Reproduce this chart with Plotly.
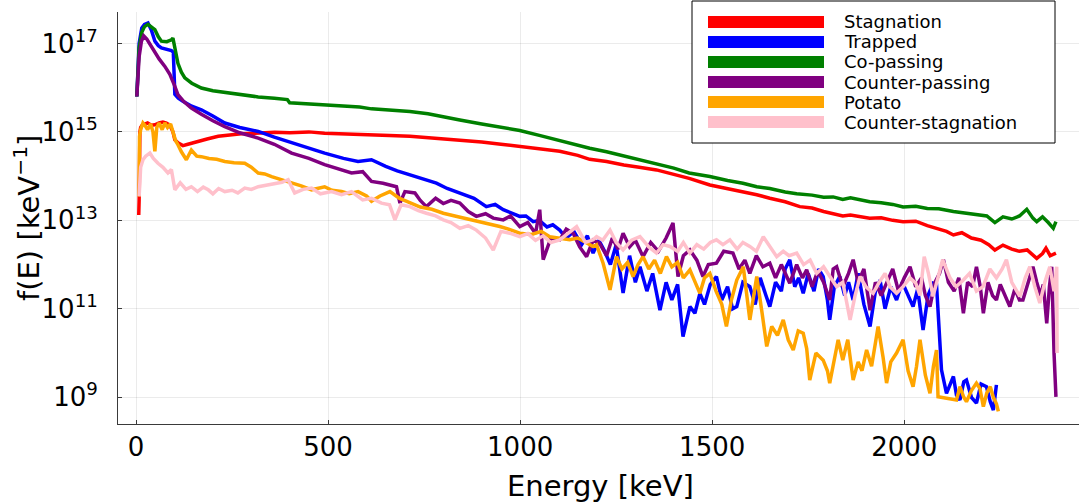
import plotly.graph_objects as go

# ---------------- data (log10 of f(E) in keV^-1) ----------------
names = ["Stagnation", "Trapped", "Co-passing", "Counter-passing", "Potato", "Counter-stagnation"]
colors = ["#ff0000", "#0000ff", "#008000", "#800080", "#ffa500", "#ffc0cb"]

stag_E = [7, 8, 10, 12, 16, 22, 30, 40, 49, 60, 70, 79, 88, 96, 101, 110, 122, 135, 150, 161, 185, 214, 245, 274, 310,
          361, 400, 450, 491, 540, 582, 613, 660, 713, 760, 800, 843, 900, 950, 999, 1050, 1103, 1150, 1181, 1225, 1270,
          1310, 1355, 1400, 1440, 1494, 1540, 1580, 1616, 1650, 1690, 1728, 1760, 1790, 1815, 1840, 1860, 1885, 1910,
          1940, 1970, 1997, 2030, 2060, 2090, 2110, 2128, 2150, 2175, 2200, 2220, 2236, 2257, 2280, 2300, 2320, 2345,
          2360, 2369, 2380, 2395]
stag_logf = [13.12, 13.46, 15.0, 15.1, 15.15, 15.18, 15.2, 15.15, 15.16, 15.2, 15.22, 15.2, 15.15, 15.0, 14.82, 14.75,
             14.69, 14.72, 14.76, 14.78, 14.84, 14.9, 14.93, 14.96, 14.97, 14.99, 14.98, 15.0, 14.97, 14.96, 14.95, 14.93,
             14.92, 14.9, 14.87, 14.85, 14.82, 14.77, 14.72, 14.67, 14.62, 14.56, 14.47, 14.38, 14.33, 14.25, 14.2, 14.14,
             14.04, 13.95, 13.8, 13.72, 13.66, 13.58, 13.5, 13.42, 13.31, 13.28, 13.2, 13.15, 13.1, 13.12, 13.09, 13.05,
             13.06, 13.0, 12.97, 12.98, 12.88, 12.8, 12.75, 12.67, 12.72, 12.6, 12.55, 12.45, 12.33, 12.44, 12.35, 12.3,
             12.33, 12.14, 12.25, 12.37, 12.2, 12.26]

trap_E = [2, 8, 15, 22, 31, 40, 49, 58, 66, 80, 92, 97, 101, 110, 122, 145, 170, 200, 231, 270, 318, 360, 405, 450, 491,
          540, 578, 613, 650, 680, 713, 750, 782, 810, 843, 880, 912, 935, 956, 975, 999, 1015, 1034, 1050, 1070, 1085,
          1103, 1120, 1140, 1160, 1175, 1190, 1205, 1220, 1235, 1250, 1268, 1285, 1300, 1312, 1330, 1345, 1364, 1380,
          1395, 1410, 1424, 1442, 1455, 1468, 1480, 1495, 1511, 1525, 1540, 1553, 1564, 1580, 1598, 1612, 1625, 1640,
          1650, 1665, 1680, 1690, 1702, 1715, 1725, 1737, 1750, 1765, 1777, 1789, 1800, 1806, 1818, 1832, 1845, 1855,
          1867, 1880, 1895, 1911, 1925, 1937, 1950, 1965, 1980, 1995, 2010, 2023, 2035, 2049, 2062, 2075, 2084, 2097,
          2110, 2120, 2128, 2136, 2145, 2155, 2162, 2175, 2188, 2200, 2214, 2224, 2232, 2240]
trap_logf = [15.8, 17.0, 17.35, 17.43, 17.46, 17.3, 17.05, 16.95, 16.9, 16.86, 16.84, 16.8, 15.85, 15.76, 15.69, 15.58,
             15.5, 15.36, 15.2, 15.1, 15.01, 14.88, 14.75, 14.62, 14.52, 14.4, 14.33, 14.37, 14.22, 14.12, 14.03, 13.93,
             13.84, 13.72, 13.62, 13.5, 13.31, 13.36, 13.24, 13.18, 13.09, 13.1, 12.97, 13.0, 12.85, 12.9, 12.78, 12.6,
             12.75, 12.45, 12.65, 12.26, 12.55, 12.3, 12.0, 12.45, 11.36, 12.2, 11.6, 11.95, 11.4, 11.8, 10.97, 11.6,
             11.2, 11.55, 10.37, 11.05, 10.9, 11.35, 11.1, 11.55, 11.73, 11.2, 11.5, 11.0, 11.05, 11.6, 11.5, 11.1, 11.7,
             11.3, 11.05, 11.6, 11.4, 11.9, 12.11, 11.5, 11.7, 11.35, 11.8, 11.4, 11.9, 11.73, 11.2, 10.75, 11.5, 11.73,
             11.3, 11.6, 11.2, 11.8, 11.1, 10.6, 11.4, 11.65, 11.0, 11.5, 11.2, 11.6, 11.3, 11.05, 11.45, 10.52, 11.3,
             11.58, 11.55, 9.62, 9.09, 9.3, 9.47, 9.05, 8.94, 9.35, 9.39, 9.0, 8.87, 9.3, 9.24, 8.9, 8.71, 9.28]

copass_E = [2, 8, 15, 22, 31, 40, 49, 58, 66, 80, 92, 96, 103, 109, 118, 127, 145, 170, 200, 231, 270, 318, 360, 394,
            400, 440, 491, 540, 582, 613, 660, 713, 760, 800, 843, 900, 950, 999, 1050, 1103, 1150, 1181, 1225, 1270,
            1310, 1355, 1400, 1440, 1494, 1540, 1580, 1616, 1650, 1690, 1720, 1760, 1790, 1815, 1840, 1860, 1885, 1910,
            1940, 1970, 1997, 2030, 2060, 2090, 2128, 2160, 2190, 2215, 2236, 2257, 2280, 2300, 2319, 2335, 2345, 2360,
            2375, 2388, 2395]
copass_logf = [15.8, 16.9, 17.25, 17.38, 17.43, 17.38, 17.31, 17.15, 17.05, 17.04, 17.08, 17.12, 16.85, 16.55, 16.35,
               16.22, 16.1, 15.99, 15.93, 15.89, 15.84, 15.79, 15.76, 15.73, 15.66, 15.64, 15.61, 15.58, 15.56, 15.52,
               15.5, 15.46, 15.41, 15.35, 15.27, 15.18, 15.1, 15.03, 14.92, 14.8, 14.7, 14.63, 14.55, 14.45, 14.36,
               14.26, 14.18, 14.07, 13.99, 13.9, 13.84, 13.76, 13.72, 13.64, 13.6, 13.57, 13.52, 13.53, 13.47, 13.51,
               13.46, 13.42, 13.4, 13.36, 13.3, 13.32, 13.27, 13.26, 13.2, 13.17, 13.13, 13.1, 12.95, 13.08, 13.03,
               13.1, 13.25, 13.05, 12.97, 13.08, 12.95, 12.82, 12.97]

cpass_E = [2, 8, 14, 20, 28, 38, 49, 60, 75, 88, 100, 109, 125, 144, 170, 200, 231, 270, 318, 360, 405, 450, 491, 530,
           561, 590, 613, 643, 665, 678, 687, 700, 726, 740, 756, 780, 800, 820, 843, 865, 886, 910, 930, 956, 975, 999,
           1020, 1040, 1051, 1060, 1080, 1103, 1120, 1138, 1155, 1173, 1190, 1207, 1225, 1240, 1255, 1268, 1285, 1300,
           1320, 1340, 1360, 1380, 1398, 1411, 1425, 1442, 1460, 1476, 1490, 1511, 1530, 1554, 1570, 1585, 1598, 1615,
           1632, 1650, 1665, 1680, 1702, 1720, 1735, 1746, 1760, 1775, 1790, 1806, 1815, 1824, 1840, 1855, 1867, 1880,
           1895, 1911, 1925, 1940, 1954, 1970, 1985, 2000, 2015, 2030, 2045, 2055, 2067, 2080, 2092, 2102, 2115, 2130,
           2142, 2154, 2165, 2178, 2188, 2198, 2206, 2218, 2230, 2240, 2250, 2262, 2275, 2288, 2300, 2309, 2320, 2335,
           2345, 2355, 2362, 2371, 2378, 2384, 2390, 2393, 2395]
cpass_logf = [15.8, 16.7, 17.05, 17.17, 17.1, 16.95, 16.78, 16.65, 16.48, 16.3, 16.05, 15.84, 15.68, 15.54, 15.4, 15.25,
              15.12, 14.98, 14.86, 14.72, 14.52, 14.4, 14.26, 14.15, 14.07, 14.1, 13.88, 13.84, 13.8, 13.76, 13.39,
              13.65, 13.62, 13.45, 13.31, 13.5, 13.38, 13.45, 13.39, 13.2, 13.09, 13.15, 13.05, 13.01, 13.1, 12.86,
              12.95, 12.7, 13.24, 12.11, 12.6, 12.56, 12.8, 12.71, 12.4, 12.18, 12.55, 12.48, 12.2, 12.6, 12.35, 12.71,
              12.4, 12.55, 12.18, 12.5, 12.3, 12.6, 12.94, 11.73, 12.2, 12.33, 12.1, 11.73, 12.0, 12.03, 12.3, 12.26,
              11.9, 12.1, 11.8, 12.2, 11.95, 12.03, 11.7, 12.0, 11.58, 12.0, 11.7, 11.88, 11.5, 11.85, 11.6, 11.2,
              11.9, 11.95, 11.5, 11.8, 12.11, 11.6, 11.9, 10.97, 11.6, 11.3, 11.58, 11.9, 11.4, 11.7, 11.95, 11.5,
              11.7, 11.3, 11.05, 11.6, 11.8, 12.11, 11.6, 11.4, 11.7, 10.9, 11.6, 11.5, 11.95, 11.5, 10.9, 11.6, 11.3,
              11.2, 11.55, 11.3, 11.05, 11.45, 11.2, 11.2, 11.5, 11.95, 11.6, 11.3, 11.55, 10.67, 11.5, 11.95, 10.0,
              9.3, 9.01]

potato_E = [8, 9, 12, 18, 23, 30, 38, 44, 49, 54, 60, 68, 75, 82, 90, 96, 103, 109, 118, 131, 144, 158, 170, 190, 210,
            231, 255, 283, 300, 318, 335, 353, 380, 405, 430, 457, 475, 491, 510, 535, 555, 578, 600, 613, 635, 661,
            685, 713, 740, 770, 800, 830, 855, 878, 910, 947, 970, 999, 1030, 1055, 1077, 1100, 1129, 1150, 1170, 1190,
            1199, 1216, 1234, 1251, 1265, 1280, 1294, 1307, 1320, 1335, 1350, 1365, 1381, 1395, 1410, 1425, 1442, 1455,
            1468, 1480, 1494, 1510, 1525, 1537, 1550, 1564, 1581, 1598, 1607, 1616, 1630, 1642, 1655, 1670, 1685, 1698,
            1711, 1724, 1737, 1746, 1754, 1770, 1789, 1800, 1806, 1817, 1828, 1840, 1853, 1867, 1880, 1890, 1902, 1915,
            1932, 1945, 1954, 1965, 1980, 1997, 2010, 2023, 2032, 2041, 2055, 2067, 2076, 2084, 2088, 2136, 2145, 2155,
            2162, 2175, 2188, 2197, 2206, 2215, 2224, 2232, 2240, 2245]
potato_logf = [13.54, 14.9, 15.05, 15.2, 15.15, 15.05, 15.18, 15.0, 14.56, 15.1, 15.2, 15.05, 15.2, 15.1, 15.18, 15.0,
               14.8, 14.71, 14.55, 14.37, 14.59, 14.45, 14.44, 14.4, 14.38, 14.33, 14.3, 14.29, 14.2, 14.07, 14.05,
               13.99, 13.92, 13.84, 13.78, 13.69, 13.72, 13.76, 13.68, 13.65, 13.6, 13.65, 13.55, 13.43, 13.55, 13.65,
               13.5, 13.39, 13.3, 13.25, 13.16, 13.1, 13.05, 13.01, 12.95, 12.86, 12.8, 12.71, 12.68, 12.75, 12.63,
               12.6, 12.56, 12.6, 12.5, 12.41, 12.45, 12.03, 11.43, 12.18, 11.9, 12.05, 11.73, 12.0, 12.18, 11.9, 12.1,
               11.8, 12.18, 11.95, 12.05, 11.7, 11.88, 11.6, 11.35, 11.7, 11.8, 11.4, 11.1, 10.6, 11.2, 11.65, 11.95,
               10.75, 11.2, 11.73, 10.9, 10.15, 10.6, 10.4, 10.75, 10.3, 10.07, 10.5, 10.45, 10.1, 9.39, 10.0, 9.84,
               9.6, 9.32, 9.8, 10.3, 9.84, 10.3, 9.39, 9.8, 9.6, 10.07, 9.7, 10.6, 9.9, 9.32, 9.8, 10.0, 10.3, 9.6, 9.24,
               9.7, 10.3, 9.5, 9.09, 9.7, 10.07, 9.01, 8.94, 9.24, 9.0, 8.9, 9.15, 9.32, 9.2, 8.79, 9.1, 9.24, 9.0, 8.85,
               8.68]

cstag_E = [8, 9, 12, 18, 25, 36, 45, 57, 70, 83, 92, 101, 115, 130, 144, 160, 175, 188, 200, 215, 231, 250, 265, 283,
           300, 318, 340, 361, 380, 396, 413, 435, 457, 480, 509, 535, 561, 590, 613, 639, 660, 674, 690, 713, 735, 756,
           780, 800, 820, 843, 865, 886, 910, 930, 950, 973, 999, 1020, 1040, 1060, 1080, 1103, 1125, 1147, 1170, 1190,
           1199, 1215, 1234, 1250, 1268, 1290, 1312, 1335, 1355, 1372, 1390, 1410, 1425, 1442, 1460, 1478, 1495, 1511,
           1528, 1546, 1565, 1580, 1598, 1615, 1633, 1650, 1668, 1685, 1700, 1720, 1738, 1755, 1772, 1790, 1806, 1824,
           1840, 1859, 1872, 1885, 1900, 1919, 1935, 1950, 1963, 1980, 1997, 2015, 2030, 2041, 2052, 2063, 2075, 2084,
           2100, 2119, 2135, 2154, 2170, 2188, 2205, 2223, 2240, 2255, 2266, 2280, 2301, 2315, 2327, 2340, 2353, 2366,
           2379, 2390, 2397, 2398]
cstag_logf = [13.54, 13.9, 14.2, 14.37, 14.45, 14.52, 14.4, 14.29, 14.2, 14.07, 14.15, 13.69, 13.85, 13.7, 13.76, 13.65,
              13.75, 13.69, 13.6, 13.72, 13.65, 13.68, 13.62, 13.73, 13.7, 13.76, 13.8, 13.84, 13.86, 13.92, 13.62,
              13.7, 13.73, 13.6, 13.65, 13.58, 13.65, 13.46, 13.5, 13.39, 13.35, 13.01, 13.35, 13.31, 13.22, 13.16,
              13.1, 13.01, 12.95, 12.82, 12.88, 12.78, 12.6, 12.33, 12.75, 12.71, 12.63, 12.7, 12.55, 12.65, 12.5,
              12.56, 12.7, 12.86, 12.5, 12.56, 12.63, 12.55, 12.78, 12.5, 12.33, 12.55, 12.63, 12.4, 12.26, 12.45,
              12.41, 12.3, 12.5, 12.26, 12.45, 12.35, 12.5, 12.56, 12.45, 12.56, 12.35, 12.5, 12.41, 12.3, 12.63, 12.4,
              12.18, 12.3, 12.2, 12.26, 12.0, 12.1, 11.8, 11.95, 11.73, 11.5, 11.6, 10.75, 11.3, 11.73, 11.5, 11.35,
              11.6, 11.8, 11.5, 11.35, 11.5, 11.7, 11.58, 11.3, 12.18, 11.8, 11.28, 11.6, 12.11, 11.7, 11.5, 11.65,
              11.8, 11.4, 11.5, 11.9, 11.7, 11.9, 12.11, 11.6, 11.28, 11.7, 11.95, 11.5, 11.13, 11.6, 11.95, 11.4,
              11.95, 10.0]

x_tick_vals = [0, 500, 1000, 1500, 2000]
y_tick_exps = [9, 11, 13, 15, 17]

series_E = [stag_E, trap_E, copass_E, cpass_E, potato_E, cstag_E]
series_logf = [stag_logf, trap_logf, copass_logf, cpass_logf, potato_logf, cstag_logf]

# ---------------- figure ----------------
W, H = 1081, 504
L, R, T, B = 118, 2, 12, 80
FONT = "DejaVu Sans"

fig = go.Figure()
for name, col, E, lf in zip(names, colors, series_E, series_logf):
    assert len(E) == len(lf), (name, len(E), len(lf))
    fig.add_trace(go.Scatter(x=E, y=[10 ** v for v in lf], mode="lines", name=name,
                             line=dict(color=col, width=3.5), showlegend=False))

axis_common = dict(showline=True, linecolor="#3a3a3a", linewidth=1, mirror=False,
                   ticks="inside", ticklen=4, tickcolor="#3a3a3a", tickwidth=1,
                   showgrid=True, gridcolor="rgba(0,0,0,0.08)", gridwidth=1, zeroline=False,
                   tickfont=dict(family=FONT, size=26, color="black"))

fig.update_xaxes(range=[-47, 2455], tickvals=x_tick_vals, ticktext=[str(v) for v in x_tick_vals], **axis_common)
fig.update_yaxes(type="log", range=[8.396, 17.71], tickvals=[10 ** e for e in y_tick_exps],
                 ticktext=[f"10<sup>{e}</sup>" for e in y_tick_exps], ticklabelstandoff=14, **axis_common)

pw, ph = W - L - R, H - T - B
def px(xp):
    return (xp - L) / pw
def py(yp):
    return (H - B - yp) / ph

shapes = [dict(type="rect", xref="paper", yref="paper", x0=px(692), x1=px(1055), y0=py(143), y1=py(1),
               line=dict(color="black", width=1), fillcolor="white", layer="above")]
annotations = []
row_y = [22, 42, 62, 82, 102, 122]
for name, col, ry in zip(names, colors, row_y):
    shapes.append(dict(type="line", xref="paper", yref="paper", x0=px(708), x1=px(824), y0=py(ry), y1=py(ry),
                       line=dict(color=col, width=12), layer="above"))
    annotations.append(dict(text=name, xref="paper", yref="paper", x=px(842), y=py(ry), xanchor="left",
                            yanchor="middle", showarrow=False, font=dict(family=FONT, size=18, color="black")))

annotations.append(dict(text="Energy [keV]", xref="paper", yref="paper", x=px(600), y=py(486),
                        xanchor="center", yanchor="middle", showarrow=False,
                        font=dict(family=FONT, size=29, color="black")))
annotations.append(dict(text="f(E) [keV<sup>−1</sup>]", xref="paper", yref="paper", x=px(27), y=py(218),
                        xanchor="center", yanchor="middle", textangle=-90, showarrow=False,
                        font=dict(family=FONT, size=29, color="black")))

fig.update_layout(width=W, height=H, margin=dict(l=L, r=R, t=T, b=B, autoexpand=False),
                  paper_bgcolor="white", plot_bgcolor="white", shapes=shapes, annotations=annotations,
                  font=dict(family=FONT))

# remove the browser's default 8px page margin so the figure sits at the window origin
fig.write_html("out.html", config={"displayModeBar": False},
               post_script="document.body.style.margin='0';document.body.style.overflow='hidden';")
